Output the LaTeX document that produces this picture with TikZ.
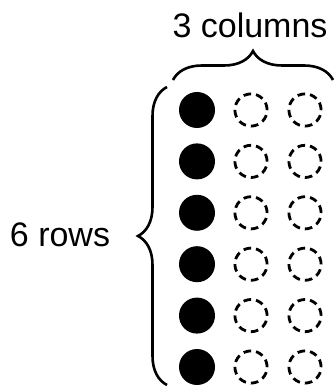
\documentclass[tikz,border=0pt]{standalone}
\usepackage{fontspec}
\setmainfont{Liberation Sans}
\usetikzlibrary{decorations.pathreplacing}

\begin{document}
\begin{tikzpicture}[x=1pt,y=1pt,line width=2.6pt]
\tikzstyle{every node}=[font=\fontsize{34}{40}\selectfont]
\tikzstyle{full}=[circle,fill=black,minimum size=36pt,inner sep=0pt]
\tikzstyle{empty}=[circle,draw=black,dash pattern=on 7.6pt off 5pt,line width=2.8pt,minimum size=32.2pt,inner sep=0pt]
\tikzstyle{curly}=[decorate,decoration={brace,amplitude=29pt},line width=2.6pt]
\useasboundingbox (0,0) rectangle (335,390);
\foreach \r in {1,...,6} {
  \node[full] (f\r) at (197, 331.4-51.4*\r) {};
  \node[empty] (a\r) at (251, 331.4-51.4*\r) {};
  \node[empty] (b\r) at (305, 331.4-51.4*\r) {};
}
\coordinate (tl) at (173,310);
\coordinate (tr) at (333,310);
\draw[curly] (tl) -- (tr);
\node (cols) at (250,365) {3 columns};
\coordinate (lb) at (167,5);
\coordinate (lt) at (167,303);
\draw[curly] (lb) -- (lt);
\node (rows) at (60,155) {6 rows};
\end{tikzpicture}
\end{document}
